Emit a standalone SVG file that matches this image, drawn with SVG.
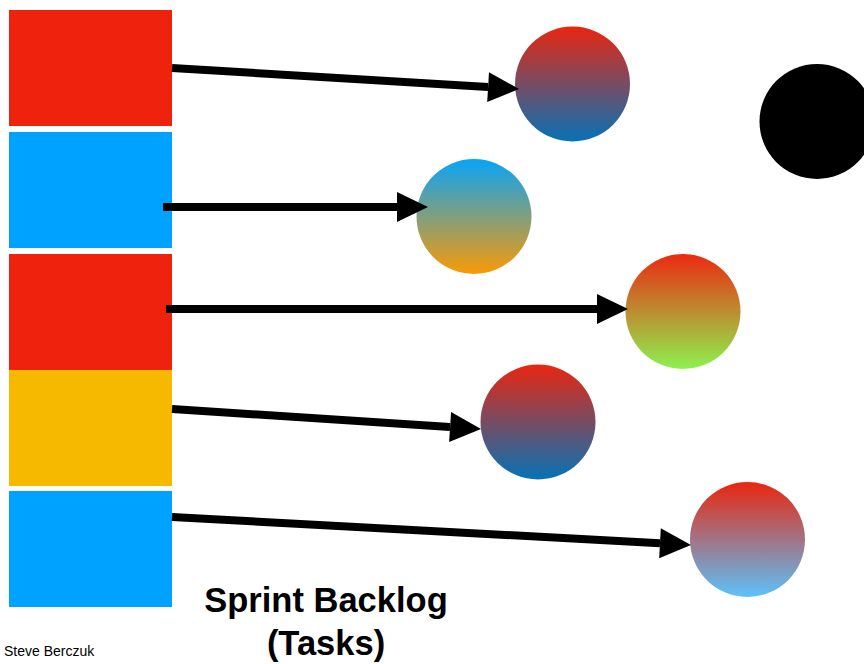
<svg xmlns="http://www.w3.org/2000/svg" width="864" height="664" viewBox="0 0 864 664">
<style>
.conn{stroke:#000;stroke-width:8;fill:none;marker-end:url(#ah)}
.title{font-family:"Liberation Sans",Arial,sans-serif;font-weight:bold;font-size:34.5px;fill:#000;text-anchor:middle}
.credit{font-family:"Liberation Sans",Arial,sans-serif;font-size:14px;fill:#000}
</style>
<defs>
<marker id="ah" markerUnits="userSpaceOnUse" markerWidth="32" markerHeight="32" refX="0" refY="15" orient="auto" overflow="visible">
<path d="M0,0 L31,15 L0,30 Z" fill="#000"/>
</marker>
<linearGradient id="gRB" x1="0" y1="0" x2="0" y2="1"><stop offset="0" stop-color="#E9260F"/><stop offset="1" stop-color="#0672B6"/></linearGradient>
<linearGradient id="gBO" x1="0" y1="0" x2="0" y2="1"><stop offset="0" stop-color="#08A4F7"/><stop offset="1" stop-color="#F99A06"/></linearGradient>
<linearGradient id="gRG" x1="0" y1="0" x2="0" y2="1"><stop offset="0" stop-color="#EB2A12"/><stop offset="1" stop-color="#8DF14F"/></linearGradient>
<linearGradient id="gRL" x1="0" y1="0" x2="0" y2="1"><stop offset="0" stop-color="#E9260F"/><stop offset="1" stop-color="#5BC2FA"/></linearGradient>
</defs>
<g id="task1"><rect x="9" y="10" width="163" height="116" fill="#EE220D"/></g>
<g id="task2"><rect x="9" y="132" width="163" height="116" fill="#00A2FF"/></g>
<g id="task3"><rect x="9" y="254" width="163" height="116" fill="#EE220D"/></g>
<g id="task4"><rect x="9" y="370" width="163" height="116" fill="#F7B900"/></g>
<g id="task5"><rect x="9" y="491" width="163" height="116" fill="#00A2FF"/></g>
<g id="circle1"><circle cx="572.5" cy="84" r="57.5" fill="url(#gRB)"/></g>
<g id="circle2"><circle cx="474" cy="216.5" r="57.5" fill="url(#gBO)"/></g>
<g id="circle3"><circle cx="683" cy="311.5" r="57.5" fill="url(#gRG)"/></g>
<g id="circle4"><circle cx="538" cy="422" r="57.5" fill="url(#gRB)"/></g>
<g id="circle5"><circle cx="747.5" cy="539.5" r="57.5" fill="url(#gRL)"/></g>
<g id="done"><circle cx="817" cy="121.5" r="57.5" fill="#000"/></g>
<g id="connectors">
<line class="conn" x1="172" y1="68" x2="488.1" y2="87.1"/>
<line class="conn" x1="163" y1="207" x2="397" y2="207"/>
<line class="conn" x1="166" y1="309" x2="597" y2="309"/>
<line class="conn" x1="172" y1="409" x2="450.1" y2="427"/>
<line class="conn" x1="172" y1="517" x2="660" y2="543.3"/>
</g>
<g id="label">
<text class="title" x="326" y="612">Sprint Backlog</text>
<text class="title" x="326" y="655">(Tasks)</text>
</g>
<text class="credit" x="4" y="656">Steve Berczuk</text>
</svg>
